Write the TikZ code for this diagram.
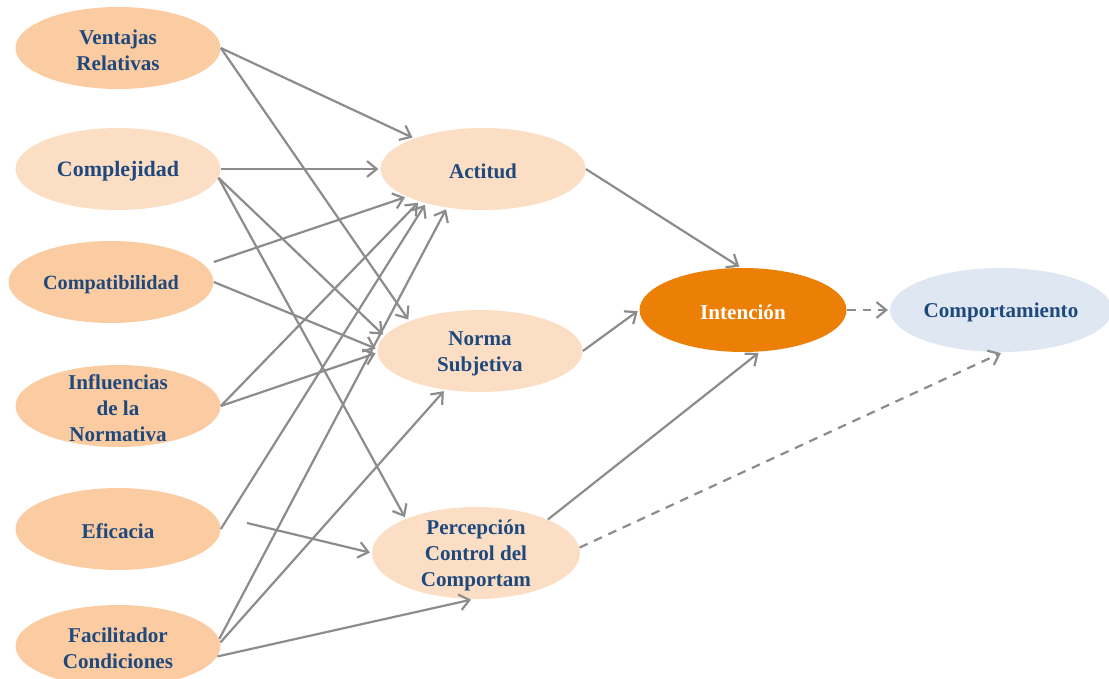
\documentclass[tikz,border=0pt]{standalone}
\usepackage{fontspec}
\setmainfont{Liberation Serif}
\usetikzlibrary{shapes.geometric,arrows.meta}

\definecolor{peachA}{RGB}{251,203,161}
\definecolor{peachB}{RGB}{252,222,197}
\definecolor{orangeI}{RGB}{236,127,6}
\definecolor{blueC}{RGB}{223,231,242}
\definecolor{txtblue}{RGB}{31,73,125}
\definecolor{linegray}{RGB}{140,140,140}

\tikzset{
  bub/.style={ellipse,minimum width=4.1cm,minimum height=1.64cm,inner sep=0pt},
  lbl/.style={inner sep=0pt,yshift=-0.05cm,align=center,text=txtblue,font=\fontsize{12}{14.8}\selectfont\bfseries},
  arr/.style={draw=linegray,line width=1.25pt,shorten >=1pt,-{Straight Barb[length=5.5pt,width=9pt]}},
  dsh/.style={dash pattern=on 5pt off 4pt}
}

\begin{document}
\begin{tikzpicture}[x=0.02cm,y=-0.02cm]
\useasboundingbox (0,0) rectangle (1109,679);
%\draw[help lines,step=50] (0,0) grid (1109,679);
\foreach \n/\x/\y/\c/\t in {ventajas/118/48/peachA/{Ventajas\\Relativas}, complejidad/118/169/peachB/{\fontsize{12.5}{15}\selectfont Complejidad}, compatibilidad/111/282/peachA/{\fontsize{11.5}{14}\selectfont Compatibilidad}, influencias/118/406/peachA/{Influencias\\de la\\Normativa}, eficacia/118/529/peachA/Eficacia, facilitador/118/646/peachA/{Facilitador\\Condiciones}, actitud/483/169/peachB/Actitud, norma/480/351/peachB/{Norma\\Subjetiva}}
{
  \node[bub,fill=\c] (\n) at (\x,\y) {};
  \node[lbl] (\n-t) at (\n) {\t};
}
\node[bub,fill=peachB,minimum width=4.16cm,minimum height=1.84cm] (percepcion) at (476,553) {};
\node[lbl] (percepcion-t) at (percepcion) {Percepción\\Control del\\Comportam};
\node[bub,fill=orangeI,minimum width=4.14cm,minimum height=1.68cm] (intencion) at (743,310) {};
\node[lbl,text=white] (intencion-t) at (intencion) {Intención};
\node[bub,fill=blueC,minimum width=4.44cm,minimum height=1.68cm] (comportamiento) at (1001,310) {};
\node[lbl] (comportamiento-t) at (comportamiento) {Comportamiento};
\coordinate (efic-s) at (247,523);
\coordinate (compat-s) at ([yshift=4mm]compatibilidad.east);

\foreach \s/\t in {ventajas.east/actitud.156, ventajas.east/norma.157, complejidad.east/actitud.west, complejidad.-5/norma.171, complejidad.-5/percepcion.154, compat-s/actitud.200, compatibilidad.east/norma.179, influencias.east/actitud.207, influencias.east/norma.181, eficacia.east/actitud.211, facilitador.4/actitud.227, facilitador.2/norma.228, facilitador.-6/percepcion.266, efic-s/percepcion.west, actitud.east/intencion.93, norma.east/intencion.west, percepcion.25/intencion.-68}
  \draw[arr] (\s) -- (\t);
\draw[arr,dsh] (intencion.east) -- (comportamiento.west);
\draw[arr,dsh] (percepcion.3) -- (comportamiento.-88);
\end{tikzpicture}
\end{document}
